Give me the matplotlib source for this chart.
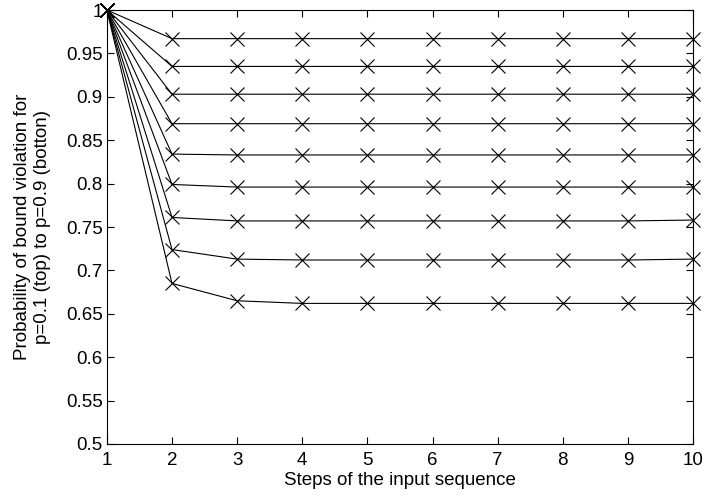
import numpy as np
import matplotlib.pyplot as plt

plt.rcParams['font.family'] = ['Liberation Sans', 'DejaVu Sans']

steps = [1, 2, 3, 4, 5, 6, 7, 8, 9, 10]

# probability of bound violation, p=0.1 (top) to p=0.9 (bottom)
p01 = [1, 0.967, 0.967, 0.967, 0.967, 0.967, 0.967, 0.967, 0.967, 0.967]
p02 = [1, 0.935, 0.935, 0.935, 0.935, 0.935, 0.935, 0.935, 0.935, 0.935]
p03 = [1, 0.903, 0.903, 0.903, 0.903, 0.903, 0.903, 0.903, 0.903, 0.903]
p04 = [1, 0.869, 0.869, 0.869, 0.869, 0.869, 0.869, 0.869, 0.869, 0.869]
p05 = [1, 0.834, 0.833, 0.833, 0.833, 0.833, 0.833, 0.833, 0.833, 0.833]
p06 = [1, 0.799, 0.796, 0.796, 0.796, 0.796, 0.796, 0.796, 0.796, 0.796]
p07 = [1, 0.761, 0.757, 0.757, 0.757, 0.757, 0.757, 0.757, 0.757, 0.758]
p08 = [1, 0.724, 0.713, 0.712, 0.712, 0.712, 0.712, 0.712, 0.712, 0.713]
p09 = [1, 0.685, 0.665, 0.662, 0.662, 0.662, 0.662, 0.662, 0.662, 0.662]

series = [p01, p02, p03, p04, p05, p06, p07, p08, p09]

fig = plt.figure(figsize=(7.03, 5.0), dpi=100)
ax = fig.add_axes([0.152, 0.112, 0.834, 0.868])

for s in series:
    ax.plot(steps, s, color='black', linewidth=0.8, marker='x',
            markersize=10, markeredgewidth=0.8, clip_on=False)

ax.set_xlim(1, 10)
ax.set_ylim(0.5, 1)
ax.set_xticks(steps)
ax.set_yticks(np.arange(0.5, 1.001, 0.05))
ax.set_yticklabels(['0.5', '0.55', '0.6', '0.65', '0.7', '0.75', '0.8',
                    '0.85', '0.9', '0.95', '1'])
ax.tick_params(direction='in', top=True, right=True, labelsize=13.5,
               length=5)
ax.tick_params(axis='x', pad=6)
ax.tick_params(axis='y', pad=3)
ax.set_xlabel('Steps of the input sequence', fontsize=13.5, labelpad=2)
ax.set_ylabel('Probability of bound violation for\np=0.1 (top) to p=0.9 (botton)',
              fontsize=13.5, labelpad=11)

fig.savefig('out.png', dpi=100)
